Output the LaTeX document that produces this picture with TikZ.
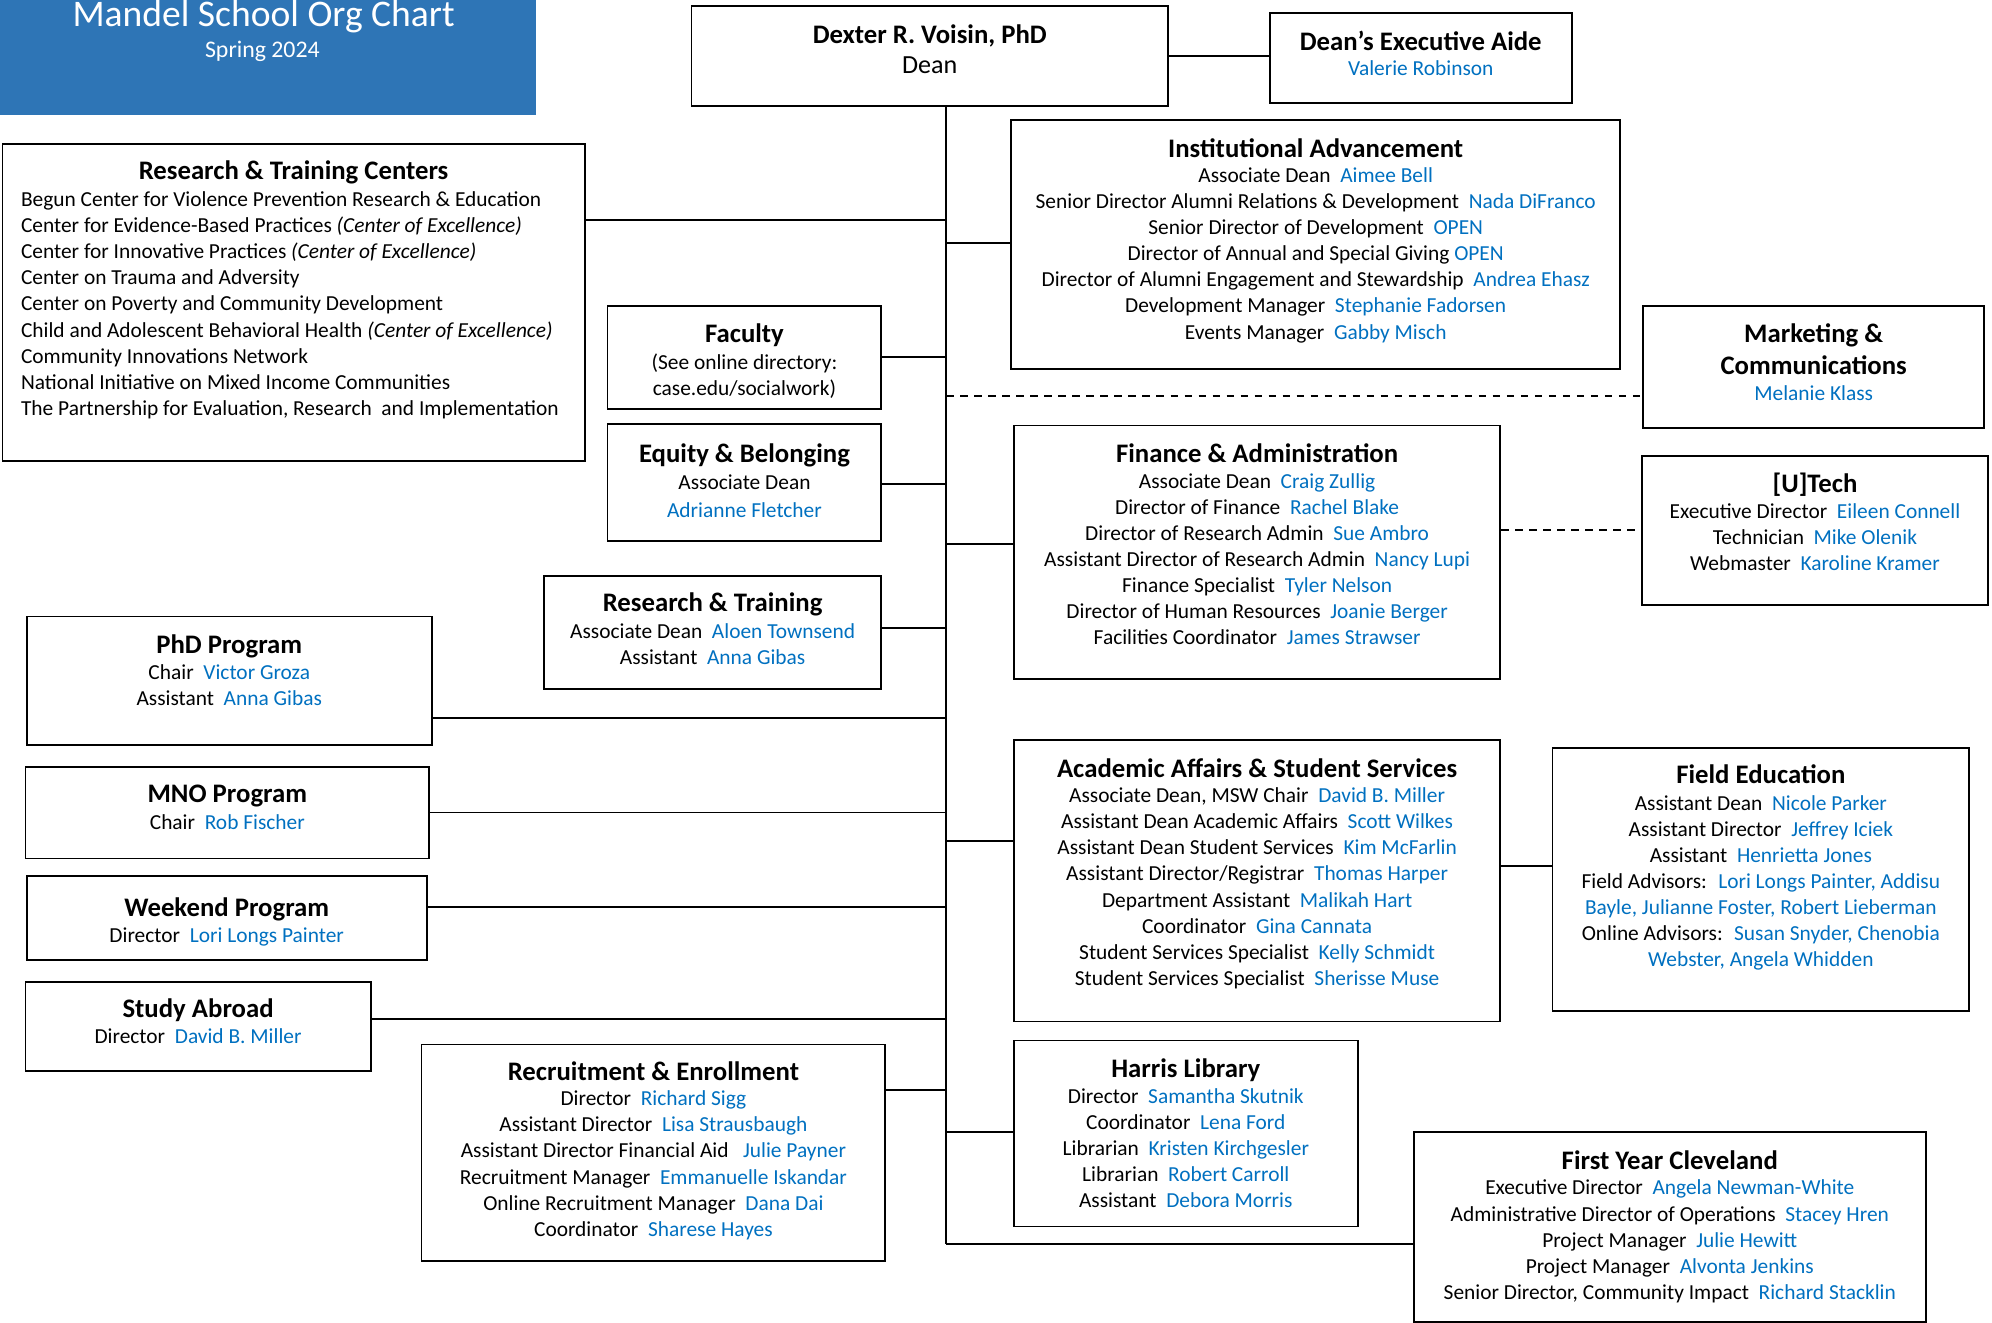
\documentclass[tikz,border=0pt]{standalone}
\usepackage{fontspec}
\setmainfont{Carlito}
\usetikzlibrary{positioning}

\definecolor{namecol}{HTML}{0070C0}
\definecolor{bannerblue}{HTML}{2E75B6}
\newcommand{\nm}[1]{\textcolor{namecol}{#1}}

\tikzset{
  unit/.style={draw, rectangle, line width=1.4pt, inner sep=0pt},
  head/.style={font=\fontsize{21}{25}\selectfont\bfseries, align=center, inner sep=0pt},
  body/.style={font=\fontsize{16.8}{20.5}\selectfont, align=center, inner sep=0pt},
  link/.style={line width=1.4pt},
  dashlink/.style={line width=1.4pt, dash pattern=on 6pt off 5pt},
}

\begin{document}
\begin{tikzpicture}[x=1pt, y=-1pt]
    \useasboundingbox (0,0) rectangle (1564,1038.7);

    % Banner
    \node[fill=bannerblue, minimum width=421pt, minimum height=90pt, inner sep=0pt, anchor=north west] (banner) at (0,0) {};
    \node[font=\fontsize{29.5}{32}\selectfont, text=white, anchor=base, inner sep=0pt] (bannerT) at (207,21) {Mandel School Org Chart};
    \node[font=\fontsize{18.7}{22}\selectfont, text=white, anchor=base, inner sep=0pt] (bannerS) at (206,45) {Spring 2024};

    % Dean and aide
    \node[unit, minimum width=374pt, minimum height=78pt] (dean) at (730,44) {};
    \node[head, below=15pt of dean.north] (deanT) {Dexter R. Voisin, PhD};
    \node[body, font=\fontsize{20.5}{24}\selectfont, below=40pt of dean.north] (deanB) {Dean};

    \node[unit, minimum width=237pt, minimum height=71pt] (aide) at (1115.5,45.5) {};
    \node[head, below=15pt of aide.north] (aideT) {Dean’s Executive Aide};
    \node[body, below=38pt of aide.north] (aideB) {\nm{Valerie Robinson}};

    % Left column
    \node[unit, minimum width=457pt, minimum height=249pt] (rtc) at (230.5,237.5) {};
    \node[head, below=14pt of rtc.north] (rtcT) {Research \& Training Centers};
    \node[body, align=left, below right=38pt and 15pt of rtc.north west] (rtcB) {Begun Center for Violence Prevention Research \& Education\\
        Center for Evidence-Based Practices \textit{(Center of Excellence)}\\
        Center for Innovative Practices \textit{(Center of Excellence)}\\
        Center on Trauma and Adversity\\
        Center on Poverty and Community Development\\
        Child and Adolescent Behavioral Health \textit{(Center of Excellence)}\\
        Community Innovations Network\\
        National Initiative on Mixed Income Communities\\
        The Partnership for Evaluation, Research~ and Implementation};

    \node[unit, minimum width=215pt, minimum height=81pt] (fac) at (584.5,280.5) {};
    \node[head, below=15pt of fac.north] (facT) {Faculty};
    \node[body, below=38pt of fac.north] (facB) {(See online directory:\\case.edu/socialwork)};

    \node[unit, minimum width=215pt, minimum height=92pt] (eqb) at (584.5,379) {};
    \node[head, below=16pt of eqb.north] (eqbT) {Equity \& Belonging};
    \node[body, below=40pt of eqb.north] (eqbB) {Associate Dean\\[1.5pt]\nm{Adrianne Fletcher}};

    \node[unit, minimum width=265pt, minimum height=89pt] (rnt) at (559.5,496.5) {};
    \node[head, below=14pt of rnt.north] (rntT) {Research \& Training};
    \node[body, below=38pt of rnt.north] (rntB) {Associate Dean~ \nm{Aloen Townsend}\\Assistant~ \nm{Anna Gibas}};

    \node[unit, minimum width=318pt, minimum height=101pt] (phd) at (180,534.5) {};
    \node[head, below=15pt of phd.north] (phdT) {PhD Program};
    \node[body, below=38pt of phd.north] (phdB) {Chair~ \nm{Victor Groza}\\Assistant~ \nm{Anna Gibas}};

    \node[unit, minimum width=317pt, minimum height=72pt] (mno) at (178.5,638) {};
    \node[head, below=15pt of mno.north] (mnoT) {MNO Program};
    \node[body, below=38pt of mno.north] (mnoB) {Chair~ \nm{Rob Fischer}};

    \node[unit, minimum width=314pt, minimum height=66pt] (wkd) at (178,721) {};
    \node[head, below=17pt of wkd.north] (wkdT) {Weekend Program};
    \node[body, below=41pt of wkd.north] (wkdB) {Director~ \nm{Lori Longs Painter}};

    \node[unit, minimum width=271pt, minimum height=70pt] (study) at (155.5,806) {};
    \node[head, below=14pt of study.north] (studyT) {Study Abroad};
    \node[body, below=37pt of study.north] (studyB) {Director~ \nm{David B. Miller}};

    \node[unit, minimum width=364pt, minimum height=170pt] (rec) at (513,905) {};
    \node[head, below=14pt of rec.north] (recT) {Recruitment \& Enrollment};
    \node[body, below=37pt of rec.north] (recB) {Director~ \nm{Richard Sigg}\\
        Assistant Director~ \nm{Lisa Strausbaugh}\\
        Assistant Director Financial Aid~~ \nm{Julie Payner}\\
        Recruitment Manager~ \nm{Emmanuelle Iskandar}\\
        Online Recruitment Manager~ \nm{Dana Dai}\\
        Coordinator~ \nm{Sharese Hayes}};

    % Right column
    \node[unit, minimum width=478pt, minimum height=196pt] (ia) at (1033,192) {};
    \node[head, below=15pt of ia.north] (iaT) {Institutional Advancement};
    \node[body, below=38pt of ia.north] (iaB) {Associate Dean~ \nm{Aimee Bell}\\
        Senior Director Alumni Relations \& Development~ \nm{Nada DiFranco}\\
        Senior Director of Development~ \nm{OPEN}\\
        Director of Annual and Special Giving \nm{OPEN}\\
        Director of Alumni Engagement and Stewardship~ \nm{Andrea Ehasz}\\
        Development Manager~ \nm{Stephanie Fadorsen}\\
        Events Manager~ \nm{Gabby Misch}};

    \node[unit, minimum width=268pt, minimum height=96pt] (mkt) at (1424,288) {};
    \node[head, below=15pt of mkt.north] (mktT) {Marketing \&\\Communications};
    \node[body, below=63pt of mkt.north] (mktB) {\nm{Melanie Klass}};

    \node[unit, minimum width=382pt, minimum height=199pt] (fin) at (987,433.5) {};
    \node[head, below=15pt of fin.north] (finT) {Finance \& Administration};
    \node[body, below=38pt of fin.north] (finB) {Associate Dean~ \nm{Craig Zullig}\\
        Director of Finance~ \nm{Rachel Blake}\\
        Director of Research Admin~ \nm{Sue Ambro}\\
        Assistant Director of Research Admin~ \nm{Nancy Lupi}\\
        Finance Specialist~ \nm{Tyler Nelson}\\
        Director of Human Resources~ \nm{Joanie Berger}\\
        Facilities Coordinator~ \nm{James Strawser}};

    \node[unit, minimum width=272pt, minimum height=117pt] (utech) at (1425,416.5) {};
    \node[head, below=14pt of utech.north] (utechT) {[U]Tech};
    \node[body, below=38pt of utech.north] (utechB) {Executive Director~ \nm{Eileen Connell}\\
        Technician~ \nm{Mike Olenik}\\
        Webmaster~ \nm{Karoline Kramer}};

    \node[unit, minimum width=382pt, minimum height=221pt] (aca) at (987,691.5) {};
    \node[head, below=15pt of aca.north] (acaT) {Academic Affairs \& Student Services};
    \node[body, below=38pt of aca.north] (acaB) {Associate Dean, MSW Chair~ \nm{David B. Miller}\\
        Assistant Dean Academic Affairs~ \nm{Scott Wilkes}\\
        Assistant Dean Student Services~ \nm{Kim McFarlin}\\
        Assistant Director/Registrar~ \nm{Thomas Harper}\\
        Department Assistant~ \nm{Malikah Hart}\\
        Coordinator~ \nm{Gina Cannata}\\
        Student Services Specialist~ \nm{Kelly Schmidt}\\
        Student Services Specialist~ \nm{Sherisse Muse}};

    \node[unit, minimum width=327pt, minimum height=207pt] (field) at (1382.5,690.5) {};
    \node[head, below=14pt of field.north] (fieldT) {Field Education};
    \node[body, below=38pt of field.north] (fieldB) {Assistant Dean~ \nm{Nicole Parker}\\
        Assistant Director~ \nm{Jeffrey Iciek}\\
        Assistant~ \nm{Henrietta Jones}\\
        Field Advisors:~ \nm{Lori Longs Painter, Addisu}\\
        \nm{Bayle, Julianne Foster, Robert Lieberman}\\
        Online Advisors:~ \nm{Susan Snyder, Chenobia}\\
        \nm{Webster, Angela Whidden}};

    \node[unit, minimum width=270pt, minimum height=146pt] (harris) at (931,890) {};
    \node[head, below=15pt of harris.north] (harrisT) {Harris Library};
    \node[body, below=38pt of harris.north] (harrisB) {Director~ \nm{Samantha Skutnik}\\
        Coordinator~ \nm{Lena Ford}\\
        Librarian~ \nm{Kristen Kirchgesler}\\
        Librarian~ \nm{Robert Carroll}\\
        Assistant~ \nm{Debora Morris}};

    \node[unit, minimum width=402pt, minimum height=149pt] (fyc) at (1311,963.5) {};
    \node[head, below=15pt of fyc.north] (fycT) {First Year Cleveland};
    \node[body, below=38pt of fyc.north] (fycB) {Executive Director~ \nm{Angela Newman-White}\\
        Administrative Director of Operations~ \nm{Stacey Hren}\\
        Project Manager~ \nm{Julie Hewitt}\\
        Project Manager~ \nm{Alvonta Jenkins}\\
        Senior Director, Community Impact~ \nm{Richard Stacklin}};

    % Trunk junctions
    \coordinate (t-rtc) at (743,173);
    \coordinate (t-ia) at (743,191);
    \coordinate (t-fac) at (743,280);
    \coordinate (t-mkt) at (743,311);
    \coordinate (t-eqb) at (743,380);
    \coordinate (t-fin) at (743,427);
    \coordinate (t-rnt) at (743,493);
    \coordinate (t-phd) at (743,564);
    \coordinate (t-mno) at (743,638);
    \coordinate (t-aca) at (743,660);
    \coordinate (t-wkd) at (743,712);
    \coordinate (t-study) at (743,800);
    \coordinate (t-rec) at (743,856);
    \coordinate (t-harris) at (743,889);
    \coordinate (t-fyc) at (743,977);
    \coordinate (j-utech) at (1230,416);
    \coordinate (j-field) at (1200,680);

    % Connectors
    \draw[link] (dean.east) -- (dean.east -| aide.west);
    \draw[link] (dean.south -| t-fyc) -- (t-fyc);
    \draw[link] (rtc.east |- t-rtc) -- (t-rtc);
    \draw[link] (t-ia) -- (ia.west |- t-ia);
    \draw[link] (fac.east |- t-fac) -- (t-fac);
    \draw[dashlink] (t-mkt) -- (mkt.west |- t-mkt);
    \draw[link] (eqb.east |- t-eqb) -- (t-eqb);
    \draw[link] (t-fin) -- (fin.west |- t-fin);
    \draw[dashlink] (fin.east |- j-utech) -- (utech.west |- j-utech);
    \draw[link] (rnt.east |- t-rnt) -- (t-rnt);
    \draw[link] (phd.east |- t-phd) -- (t-phd);
    \draw[link] (mno.east |- t-mno) -- (t-mno);
    \draw[link] (t-aca) -- (aca.west |- t-aca);
    \draw[link] (aca.east |- j-field) -- (field.west |- j-field);
    \draw[link] (wkd.east |- t-wkd) -- (t-wkd);
    \draw[link] (study.east |- t-study) -- (t-study);
    \draw[link] (rec.east |- t-rec) -- (t-rec);
    \draw[link] (t-harris) -- (harris.west |- t-harris);
    \draw[link] (t-fyc) -- (fyc.west |- t-fyc);

\end{tikzpicture}
\end{document}
